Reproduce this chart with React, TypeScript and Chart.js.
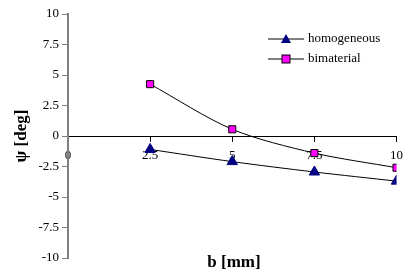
import React, { useEffect, useRef } from "react";
import { Chart, registerables } from "chart.js";

Chart.register(...registerables);

const bValues = [2.5, 5, 7.5, 10];
const homogeneous = [-1.1, -2.1, -2.95, -3.7];
const bimaterial = [4.25, 0.55, -1.4, -2.6];
const seriesNames = ["homogeneous", "bimaterial"];
const xTitle = "b [mm]";
const yTitle = "ψ [deg]";

const FONT = "'Liberation Serif', 'Times New Roman', serif";

const customPlugin = {
  id: "custom",
  afterDraw(chart: any) {
    const ctx = chart.ctx;
    const area = chart.chartArea;
    ctx.save();
    ctx.fillStyle = "#000";
    ctx.font = `bold 17px ${FONT}`;
    ctx.textAlign = "center";
    ctx.textBaseline = "middle";
    ctx.fillText(xTitle, 234, 263);
    ctx.translate(22, (area.top + area.bottom) / 2);
    ctx.rotate(-Math.PI / 2);
    ctx.fillText(yTitle, 0, 0);
    ctx.restore();

    ctx.save();
    const items = [
      { label: seriesNames[0], style: "triangle" },
      { label: seriesNames[1], style: "square" },
    ];
    items.forEach((it, i) => {
      const y = 39 + i * 20;
      const x0 = 268;
      ctx.strokeStyle = "#000";
      ctx.lineWidth = 1;
      ctx.beginPath();
      ctx.moveTo(x0, y);
      ctx.lineTo(x0 + 36, y);
      ctx.stroke();
      const cx = x0 + 18;
      if (it.style === "triangle") {
        ctx.fillStyle = "#000080";
        ctx.beginPath();
        ctx.moveTo(cx, y - 5);
        ctx.lineTo(cx + 5, y + 4);
        ctx.lineTo(cx - 5, y + 4);
        ctx.closePath();
        ctx.fill();
      } else {
        ctx.fillStyle = "#FF00FF";
        ctx.fillRect(cx - 4, y - 4, 8, 8);
        ctx.strokeRect(cx - 4, y - 4, 8, 8);
      }
      ctx.fillStyle = "#000";
      ctx.font = `13px ${FONT}`;
      ctx.textAlign = "left";
      ctx.textBaseline = "middle";
      ctx.fillText(it.label, x0 + 40, y);
    });
    ctx.restore();
  },
};

export default function App() {
  const ref = useRef<HTMLCanvasElement | null>(null);
  useEffect(() => {
    if (!ref.current) return;
    const chart = new Chart(ref.current, {
      type: "line",
      data: {
        datasets: [
          {
            label: seriesNames[0],
            data: bValues.map((x, i) => ({ x, y: homogeneous[i] })),
            borderColor: "#000",
            borderWidth: 1,
            pointStyle: "triangle",
            pointRadius: 6,
            pointBackgroundColor: "#000080",
            pointBorderColor: "#000080",
            pointBorderWidth: 1,
            tension: 0.3,
          },
          {
            label: seriesNames[1],
            data: bValues.map((x, i) => ({ x, y: bimaterial[i] })),
            borderColor: "#000",
            borderWidth: 1,
            pointStyle: "rect",
            pointRadius: 5,
            pointBackgroundColor: "#FF00FF",
            pointBorderColor: "#000",
            pointBorderWidth: 1,
            tension: 0.3,
          },
        ],
      },
      options: {
        animation: false,
        responsive: false,
        layout: { padding: { top: 14, bottom: 14, left: 0, right: 4 } },
        plugins: { legend: { display: false }, tooltip: { enabled: false } },
        scales: {
          x: {
            type: "linear",
            position: { y: 0 },
            min: 0,
            max: 10,
            ticks: {
              stepSize: 2.5,
              color: "#000",
              font: { family: FONT, size: 13 },
              padding: 7,
            },
            grid: {
              drawOnChartArea: false,
              tickLength: 5,
              color: "#000",
            },
            border: { color: "#000", width: 1 },
          },
          y: {
            type: "linear",
            position: "left",
            min: -10,
            max: 10,
            afterFit: (s: any) => {
              s.width = 68;
            },
            ticks: {
              stepSize: 2.5,
              color: "#000",
              font: { family: FONT, size: 13 },
              padding: 3,
            },
            grid: {
              drawOnChartArea: false,
              tickLength: 6,
              color: "#808080",
            },
            border: { color: "#808080", width: 2 },
          },
        },
      },
      plugins: [customPlugin],
    } as any);
    return () => chart.destroy();
  }, []);
  return (
    <div style={{ position: "fixed", left: 0, top: 0, width: 410, height: 272, background: "#fff" }}>
      <canvas ref={ref} width={410} height={272} />
    </div>
  );
}
